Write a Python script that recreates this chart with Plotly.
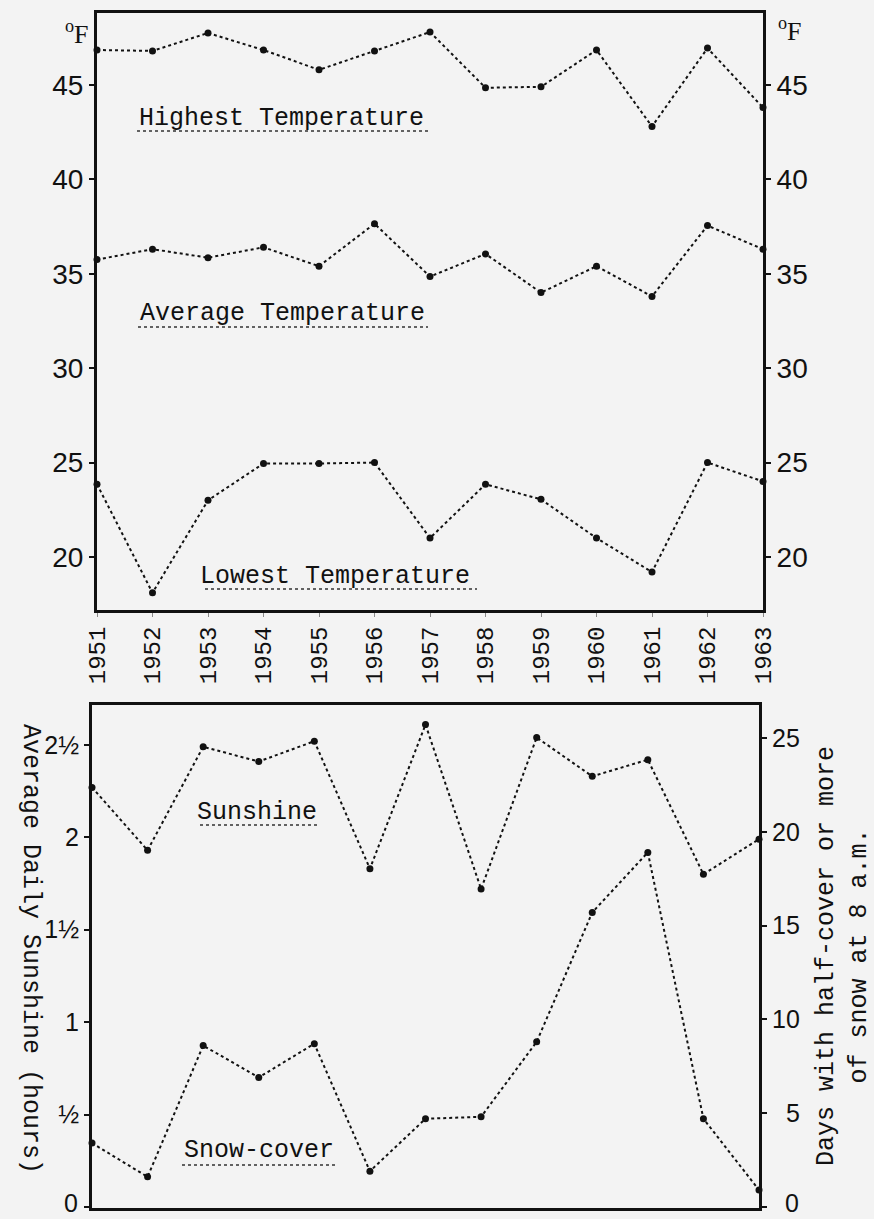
import plotly.graph_objects as go

W, H = 874, 1219

years = list(range(1951, 1964))
year_labels = [str(y) for y in years]

highest_temp = [46.85, 46.8, 47.75, 46.85, 45.8, 46.8, 47.8, 44.85, 44.9, 46.85, 42.8, 46.95, 43.8]
average_temp = [35.75, 36.3, 35.85, 36.4, 35.4, 37.65, 34.85, 36.05, 34.0, 35.4, 33.8, 37.55, 36.3]
lowest_temp = [23.85, 18.1, 23.0, 24.95, 24.95, 25.0, 21.0, 23.85, 23.05, 21.0, 19.2, 25.0, 24.0]

sunshine_hours = [2.27, 1.93, 2.49, 2.41, 2.52, 1.83, 2.61, 1.72, 2.54, 2.33, 2.42, 1.80, 1.99]
snow_days = [3.4, 1.6, 8.6, 6.9, 8.7, 1.9, 4.7, 4.8, 8.8, 15.7, 18.9, 4.7, 0.9]

temp_ticks = [20, 25, 30, 35, 40, 45]
temp_tick_labels = ["20", "25", "30", "35", "40", "45"]
sun_ticks = [0, 0.5, 1, 1.5, 2, 2.5]
sun_tick_labels = ["", "½", "1", "1½", "2", "2½"]      # "0" drawn separately at the page edge
snow_ticks = [0, 5, 10, 15, 20, 25]
snow_tick_labels = ["", "\u20075", "10", "15", "20", "25"]
zero_label = "0"


def px(x):
    return x / W


def py(y):
    return 1 - y / H


MONO = "Liberation Mono, Courier New, monospace"
SANS = "Liberation Sans, Arial, sans-serif"
SERIF = "Liberation Serif, Times New Roman, serif"
INK = "#111111"

line_style = dict(color=INK, width=2, dash="dot")
marker_style = dict(color=INK, size=7)

fig = go.Figure()
for vals in (highest_temp, average_temp, lowest_temp):
    fig.add_trace(go.Scatter(x=years, y=vals, mode="lines+markers", line=line_style,
                             marker=marker_style, xaxis="x", yaxis="y",
                             cliponaxis=False, showlegend=False, hoverinfo="skip"))
# carrier for the right-hand duplicate temperature axis
fig.add_trace(go.Scatter(x=[years[0]], y=[highest_temp[0]], mode="markers",
                         marker=dict(size=1, opacity=0), xaxis="x", yaxis="y2",
                         showlegend=False, hoverinfo="skip"))
fig.add_trace(go.Scatter(x=years, y=sunshine_hours, mode="lines+markers", line=line_style,
                         marker=marker_style, xaxis="x2", yaxis="y3",
                         cliponaxis=False, showlegend=False, hoverinfo="skip"))
fig.add_trace(go.Scatter(x=years, y=snow_days, mode="lines+markers", line=line_style,
                         marker=marker_style, xaxis="x2", yaxis="y4",
                         cliponaxis=False, showlegend=False, hoverinfo="skip"))

axis_common = dict(showgrid=False, zeroline=False, showline=True, linecolor=INK,
                   linewidth=3, automargin=False)

top_dom_y = [py(610), py(13)]
bot_dom_y = [py(1208), py(705)]

fig.update_layout(
    width=W, height=H,
    margin=dict(l=0, r=0, t=0, b=0),
    paper_bgcolor="#f3f3f3", plot_bgcolor="rgba(0,0,0,0)",
    showlegend=False,
    xaxis=dict(domain=[px(97), px(763)], range=[1951, 1963], anchor="y",
               tickvals=years, ticktext=year_labels, tickangle=-90,
               tickfont=dict(family=MONO, size=24, color=INK),
               ticks="outside", ticklen=4, tickcolor="#888888", tickwidth=1,
               mirror=True, **axis_common),
    yaxis=dict(domain=top_dom_y, range=[17.19, 48.81], anchor="x",
               tickvals=temp_ticks, ticktext=temp_tick_labels,
               tickfont=dict(family=SANS, size=28, color=INK),
               ticks="outside", ticklen=5, tickcolor=INK, tickwidth=1.5,
               **axis_common),
    yaxis2=dict(domain=top_dom_y, range=[17.19, 48.81], anchor="x", overlaying="y",
                side="right", tickvals=temp_ticks, ticktext=temp_tick_labels,
                tickfont=dict(family=SANS, size=28, color=INK),
                ticks="outside", ticklen=5, tickcolor=INK, tickwidth=1.5,
                **axis_common),
    xaxis2=dict(domain=[px(92), px(759)], range=[1951, 1963], anchor="y3",
                tickvals=years, showticklabels=False, ticks="",
                mirror=True, **axis_common),
    yaxis3=dict(domain=bot_dom_y, range=[-0.006, 2.716], anchor="x2",
                tickvals=sun_ticks, ticktext=sun_tick_labels,
                tickfont=dict(family=SANS, size=25, color=INK),
                ticks="outside", ticklen=5, tickcolor=INK, tickwidth=1.5,
                **axis_common),
    yaxis4=dict(domain=bot_dom_y, range=[-0.06, 26.76], anchor="x2", overlaying="y3",
                side="right", tickvals=snow_ticks, ticktext=snow_tick_labels,
                tickfont=dict(family=SANS, size=25, color=INK),
                ticks="outside", ticklen=5, tickcolor=INK, tickwidth=1.5,
                **axis_common),
)

labels = [
    ("Highest Temperature", 137, 119, 137, 430, 131),
    ("Average Temperature", 138, 314, 138, 428, 327),
    ("Lowest Temperature", 198, 577, 205, 477, 589),
    ("Sunshine", 195, 812, 200, 318, 825),
    ("Snow-cover", 182, 1150, 182, 335, 1165),
]
for text, x, y, ux0, ux1, uy in labels:
    fig.add_annotation(text=text, x=px(x), y=py(y), xref="paper", yref="paper",
                       xanchor="left", yanchor="middle", showarrow=False,
                       font=dict(family=MONO, size=25, color=INK))
    fig.add_shape(type="line", xref="paper", yref="paper",
                  x0=px(ux0), x1=px(ux1), y0=py(uy), y1=py(uy),
                  line=dict(color="#333333", width=1.5, dash="dot"))

# the "0" labels of the lower panel sit right at the page edge
for xc, anchor in ((80, "right"), (801, "right")):
    fig.add_annotation(text=zero_label, x=px(xc), y=0, xref="paper", yref="paper",
                       xanchor=anchor, yanchor="bottom", showarrow=False,
                       font=dict(family=SANS, size=25, color=INK))

for xc, yc in ((77, 33), (790, 30)):
    fig.add_annotation(text="<sup>o</sup>F", x=px(xc), y=py(yc), xref="paper", yref="paper",
                       xanchor="center", yanchor="middle", showarrow=False,
                       font=dict(family=SERIF, size=26, color=INK))

fig.add_annotation(text="Average Daily Sunshine (hours)", x=px(31), y=py(949),
                   xref="paper", yref="paper", textangle=90, showarrow=False,
                   xanchor="center", yanchor="middle",
                   font=dict(family=MONO, size=25, color=INK))
fig.add_annotation(text="Days with half-cover or more<br>of snow at 8 a.m.",
                   x=px(843), y=py(956), xref="paper", yref="paper", textangle=-90,
                   showarrow=False, xanchor="center", yanchor="middle", align="center",
                   font=dict(family=MONO, size=25, color=INK))

fig.write_html("out.html",
               config={"displayModeBar": False},
               post_script="document.body.style.margin='0';document.body.style.overflow='hidden';")
